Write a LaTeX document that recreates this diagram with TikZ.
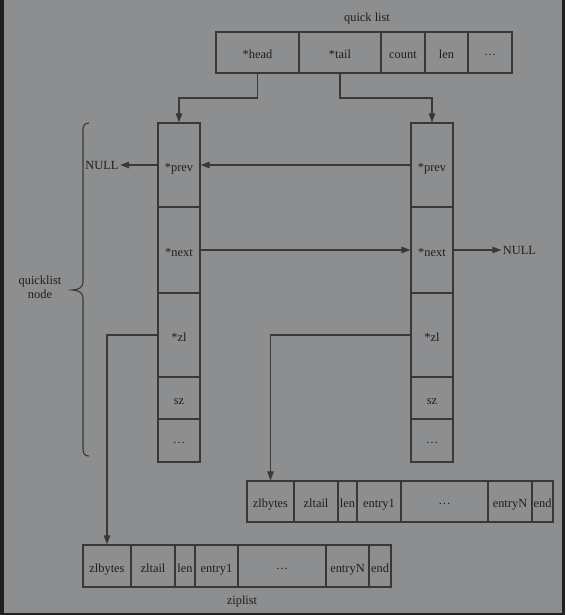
\documentclass[tikz,border=0pt]{standalone}
\usepackage{fontspec}
\setmainfont{Liberation Serif}
\usetikzlibrary{arrows.meta}
\definecolor{bgcol}{HTML}{8D8E90}
\definecolor{bandcol}{HTML}{202020}
\definecolor{linecol}{HTML}{383838}
\definecolor{txtcol}{HTML}{1E1E1E}
\tikzset{
  cell/.style={draw=linecol, line width=1.3pt, inner sep=0pt, text=txtcol,
    text height=12pt, text depth=0pt, font=\fontsize{12.4}{14}\selectfont},
  lbl/.style={inner sep=1.5pt, text=txtcol, font=\fontsize{12.4}{14}\selectfont},
  conn/.style={draw=linecol, line width=1.3pt},
  arr/.style={conn, -{Triangle[length=9pt,width=6.5pt]}}
}
\newcommand{\cellnode}[6]{\node[cell, minimum width=#3pt, minimum height=#4pt] (#1) at (#2,#5) {#6};}
\newcommand{\mydots}{\raisebox{3pt}{…}}
\begin{document}
\begin{tikzpicture}[x=1pt,y=-1pt]
\useasboundingbox (0,0) rectangle (565,615);
\fill[bandcol] (0,0) rectangle (565,615);
\fill[bgcol] (4,0) rectangle (562,612.5);

% quick list header
\node[lbl] (qltitle) at (367,19) {quick list};
\cellnode{head}{257.5}{83}{41}{52.5}{*head}
\cellnode{tail}{340}{82}{41}{52.5}{*tail}
\cellnode{count}{403}{44}{41}{52.5}{count}
\cellnode{len}{446.5}{43}{41}{52.5}{len}
\cellnode{hdots}{490}{44}{41}{52.5}{\mydots}

% left quicklist node
\cellnode{lprev}{179}{42}{84}{165}{*prev}
\cellnode{lnext}{179}{42}{86}{250}{*next}
\cellnode{lzl}{179}{42}{84}{335}{*zl}
\cellnode{lsz}{179}{42}{42}{398}{sz}
\cellnode{ldots}{179}{42}{43}{440.5}{\mydots}

% right quicklist node
\cellnode{rprev}{432}{42}{84}{165}{*prev}
\cellnode{rnext}{432}{42}{86}{250}{*next}
\cellnode{rzl}{432}{42}{84}{335}{*zl}
\cellnode{rsz}{432}{42}{42}{398}{sz}
\cellnode{rdots}{432}{42}{43}{440.5}{\mydots}

% NULL labels
\node[lbl] (nullL) at (102,165.5) {NULL};
\node[lbl] (nullR) at (519.5,250.5) {NULL};

% brace and its label
\draw[conn, line width=1.1pt] (89,123) .. controls (85,123) and (83,125) .. (83,130) -- (83,282)
  .. controls (83,287) and (79,290) .. (72,290)
  .. controls (79,290) and (83,293) .. (83,298) -- (83,449)
  .. controls (83,454) and (85,456) .. (89,456);
\node[lbl, align=center] (qlabel) at (40,287) {quicklist\\node};

% right ziplist
\cellnode{rz1}{270.5}{47}{41}{501.5}{zlbytes}
\cellnode{rz2}{316}{44}{41}{501.5}{zltail}
\cellnode{rz3}{347.5}{19}{41}{501.5}{len}
\cellnode{rz4}{379}{44}{41}{501.5}{entry1}
\cellnode{rz5}{444.5}{87}{41}{501.5}{\mydots}
\cellnode{rz6}{510}{44}{41}{501.5}{entryN}
\cellnode{rz7}{542.5}{21}{41}{501.5}{end}

% bottom ziplist
\cellnode{bz1}{107}{48}{42}{566}{zlbytes}
\cellnode{bz2}{153}{44}{42}{566}{zltail}
\cellnode{bz3}{185}{20}{42}{566}{len}
\cellnode{bz4}{216.5}{43}{42}{566}{entry1}
\cellnode{bz5}{282}{88}{42}{566}{\mydots}
\cellnode{bz6}{347.5}{43}{42}{566}{entryN}
\cellnode{bz7}{380}{22}{42}{566}{end}
\node[lbl] (zltitle) at (242,602) {ziplist};

% connectors
\coordinate (hbend) at (257.5,98);
\coordinate (tbend) at (340,98);
\draw[arr] (head.south) -- (hbend) -| (lprev.north);
\draw[arr] (tail.south) -- (tbend) -| (rprev.north);
\draw[arr] (rprev.west) -- (lprev.east);
\draw[arr] (lprev.west) -- (nullL.east |- lprev.west);
\draw[arr] (lnext.east) -- (rnext.west);
\draw[arr] (rnext.east) -- (nullR.west |- rnext.east);
\draw[arr] (lzl.west) -| (bz1.north);
\draw[arr] (rzl.west) -| (rz1.north);
\end{tikzpicture}
\end{document}
